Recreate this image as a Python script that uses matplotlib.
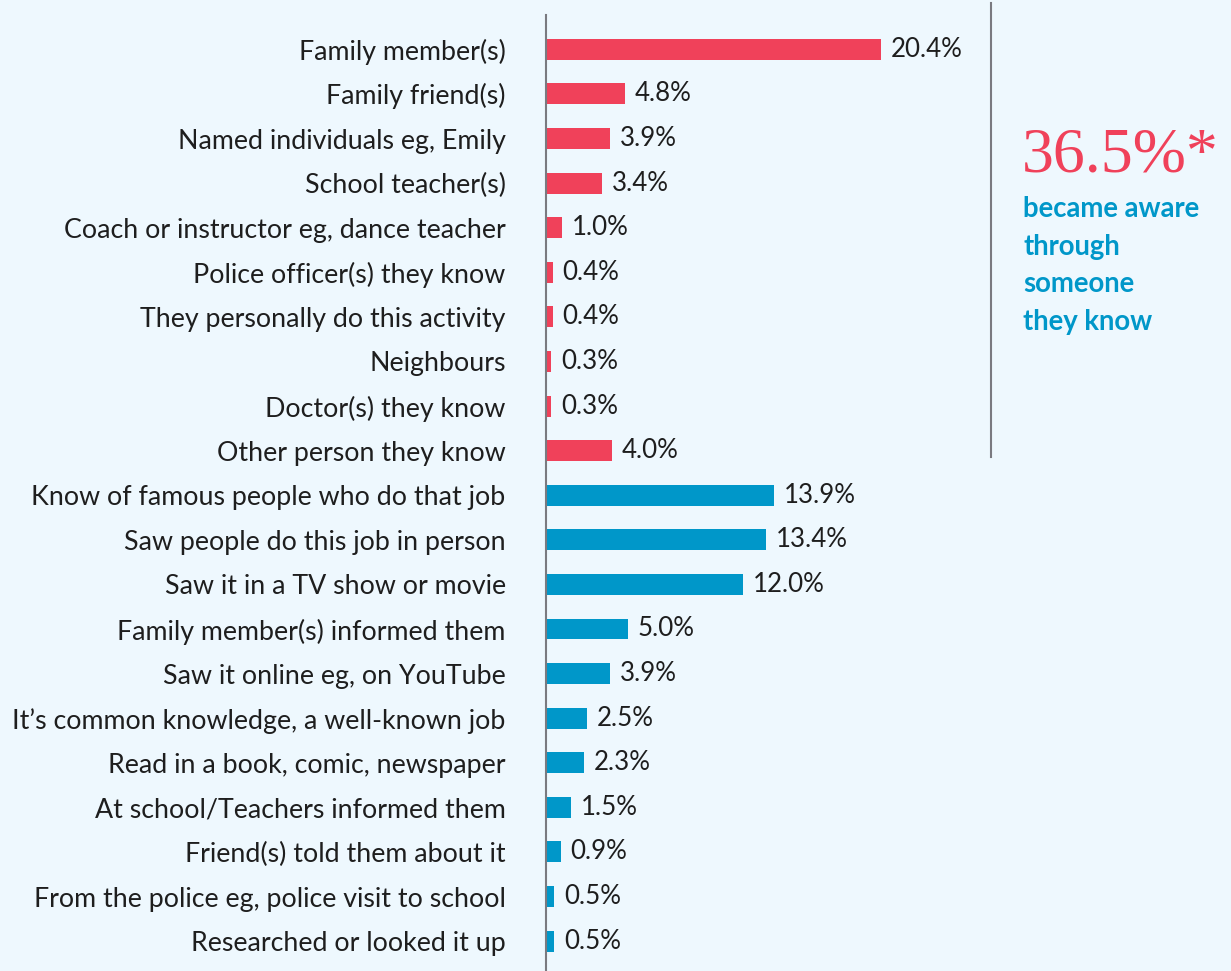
import matplotlib.pyplot as plt

# awareness sources, top to bottom
labels = [
    "Family member(s)",
    "Family friend(s)",
    "Named individuals eg, Emily",
    "School teacher(s)",
    "Coach or instructor eg, dance teacher",
    "Police officer(s) they know",
    "They personally do this activity",
    "Neighbours",
    "Doctor(s) they know",
    "Other person they know",
    "Know of famous people who do that job",
    "Saw people do this job in person",
    "Saw it in a TV show or movie",
    "Family member(s) informed them",
    "Saw it online eg, on YouTube",
    "It\u2019s common knowledge, a well-known job",
    "Read in a book, comic, newspaper",
    "At school/Teachers informed them",
    "Friend(s) told them about it",
    "From the police eg, police visit to school",
    "Researched or looked it up",
]
values = [20.4, 4.8, 3.9, 3.4, 1.0, 0.4, 0.4, 0.3, 0.3, 4.0,
          13.9, 13.4, 12.0, 5.0, 3.9, 2.5, 2.3, 1.5, 0.9, 0.5, 0.5]
n_known = 10  # first group: someone they know

headline = "36.5%*"
callout = ["became aware", "through", "someone", "they know"]

RED = "#F0415A"
BLUE = "#0097C9"
BG = "#EEF8FE"
TXT = "#1e1e1e"
FONT = "Lato"

W, H = 1231, 971
fig = plt.figure(figsize=(W / 100, H / 100), dpi=100, facecolor=BG)
# axes from x=546 to x=990 px, y from 15 px down to bottom
ax = fig.add_axes([546 / W, 0, 444 / W, 1 - 15 / H])
ax.set_facecolor(BG)

colors = [RED] * n_known + [BLUE] * (len(values) - n_known)
ypos = list(range(len(values)))
ax.barh(ypos, values, height=0.47, color=colors)

ax.set_xlim(0, 444 / 16.4)
ax.set_ylim(len(values) - 0.33, -0.77)

for y, v in zip(ypos, values):
    ax.text(v + 0.6, y, f"{v:.1f}%", va="center", ha="left",
            fontsize=18.6, color=TXT, family=FONT)

ax.set_yticks(ypos)
ax.set_yticklabels(labels, fontsize=19.3, color=TXT, family=FONT)
ax.tick_params(axis="y", length=0, pad=29)
ax.set_xticks([])
for s in ["top", "right", "bottom"]:
    ax.spines[s].set_visible(False)
ax.spines["left"].set_color("#7a7a80")
ax.spines["left"].set_linewidth(1.5)

# divider line and callout
fig.add_artist(plt.Line2D([990.5 / W, 990.5 / W], [1 - 3 / H, 1 - 457 / H],
                          color="#7a7a80", lw=1.5))
fig.text(1022 / W, 1 - 172 / H, headline, color=RED, fontsize=46,
         family="Liberation Serif", va="baseline", ha="left")
for line, base in zip(callout, [217, 255, 292, 330]):
    fig.text(1023 / W, 1 - base / H, line, color=BLUE, fontsize=19.8,
             fontweight="bold", family=FONT, va="baseline", ha="left")

fig.savefig("out.png", dpi=100, facecolor=BG)
